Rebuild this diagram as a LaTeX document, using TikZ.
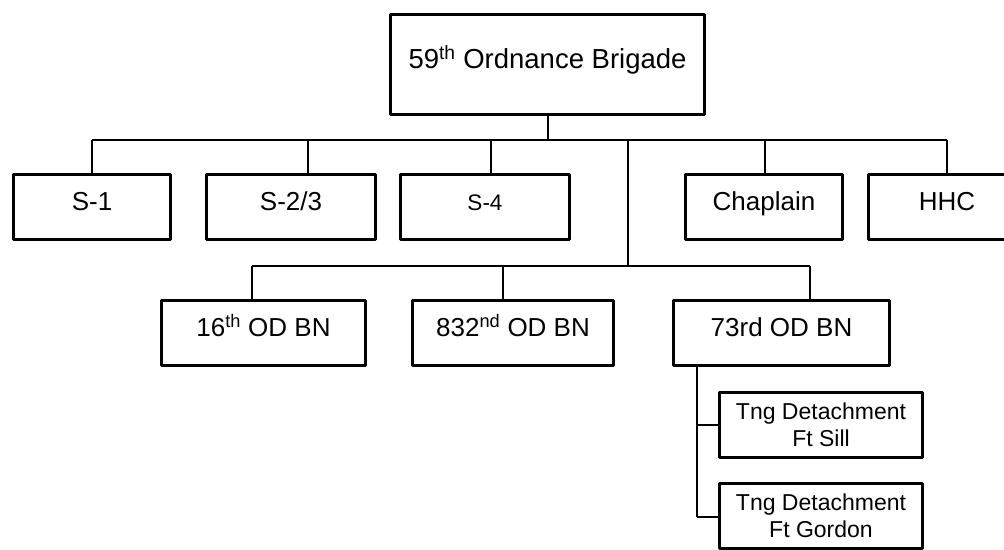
\documentclass[tikz,border=0pt]{standalone}
\usepackage{fontspec}
\setmainfont{Liberation Sans}
\begin{document}
\begin{tikzpicture}[x=1pt,y=-1pt,
  box/.style={draw=black, line width=3pt, line join=round, fill=white, inner sep=0pt, align=center, text=black},
  one/.style={text height=0.72em, text depth=0pt},
  conn/.style={draw=black, line width=2pt},
  tfont/.style={font=\fontsize{27.5}{33}\selectfont},
  rfont/.style={font=\fontsize{26}{31}\selectfont},
  s4font/.style={font=\fontsize{22.5}{27}\selectfont},
  sfont/.style={font=\fontsize{23}{26.5}\selectfont},
  row1/.style={box, one, minimum height=65},
  row2/.style={box, one, minimum height=65},
  row3/.style={box, minimum height=65}]
\useasboundingbox (0,0) rectangle (1004,549);
\clip (0,0) rectangle (1004,549);
\fill[white] (0,0) rectangle (1004,549);

% nodes
\node[box,one,tfont,minimum width=314,minimum height=100] (top) at (547.5,64.5) {59\textsuperscript{th} Ordnance Brigade};

\node[row1,rfont,minimum width=157] (s1) at (92,207) {S-1};
\node[row1,rfont,minimum width=169] (s23) at (291,207) {S-2/3};
\node[row1,s4font,minimum width=169] (s4) at (485,207) {S-4};
\node[row1,rfont,minimum width=157] (chap) at (764,207) {Chaplain};
\node[row1,rfont,minimum width=157] (hhc) at (947,207) {HHC};

\node[row2,rfont,minimum width=204] (b16) at (263.5,333) {16\textsuperscript{th} OD BN};
\node[row2,rfont,minimum width=201] (b832) at (513,333) {832\textsuperscript{nd} OD BN};
\node[row2,rfont,minimum width=216] (b73) at (781.5,333) {73rd OD BN};

\node[row3,sfont,minimum width=203] (tng1) at (821,425) {Tng Detachment\\Ft Sill};
\node[row3,sfont,minimum width=203] (tng2) at (821,516) {Tng Detachment\\Ft Gordon};

% junction coordinates
\coordinate (j0) at (548,140);
\coordinate (a1) at (92,140);
\coordinate (a2) at (308,140);
\coordinate (a3) at (491,140);
\coordinate (a4) at (628,140);
\coordinate (a5) at (765,140);
\coordinate (a6) at (947,140);
\coordinate (c0) at (628,266);
\coordinate (c1) at (252,266);
\coordinate (c2) at (503,266);
\coordinate (c3) at (810,266);
\coordinate (d0) at (697,367);
\coordinate (d1) at (697,425);
\coordinate (d2) at (697,517);

% connectors
\draw[conn] (top.south -| j0) -- (j0);
\draw[conn] (a1) -- (a6);
\draw[conn] (a1) -- (a1 |- s1.north);
\draw[conn] (a2) -- (a2 |- s23.north);
\draw[conn] (a3) -- (a3 |- s4.north);
\draw[conn] (a5) -- (a5 |- chap.north);
\draw[conn] (a6) -- (a6 |- hhc.north);
\draw[conn] (a4) -- (c0);
\draw[conn] (c1) -- (c3);
\draw[conn] (c1) -- (c1 |- b16.north);
\draw[conn] (c2) -- (c2 |- b832.north);
\draw[conn] (c3) -- (c3 |- b73.north);
\draw[conn] (d0 |- b73.south) -- (d2);
\draw[conn] (d1) -- (d1 -| tng1.west);
\draw[conn] (d2) -- (d2 -| tng2.west);
\end{tikzpicture}
\end{document}
